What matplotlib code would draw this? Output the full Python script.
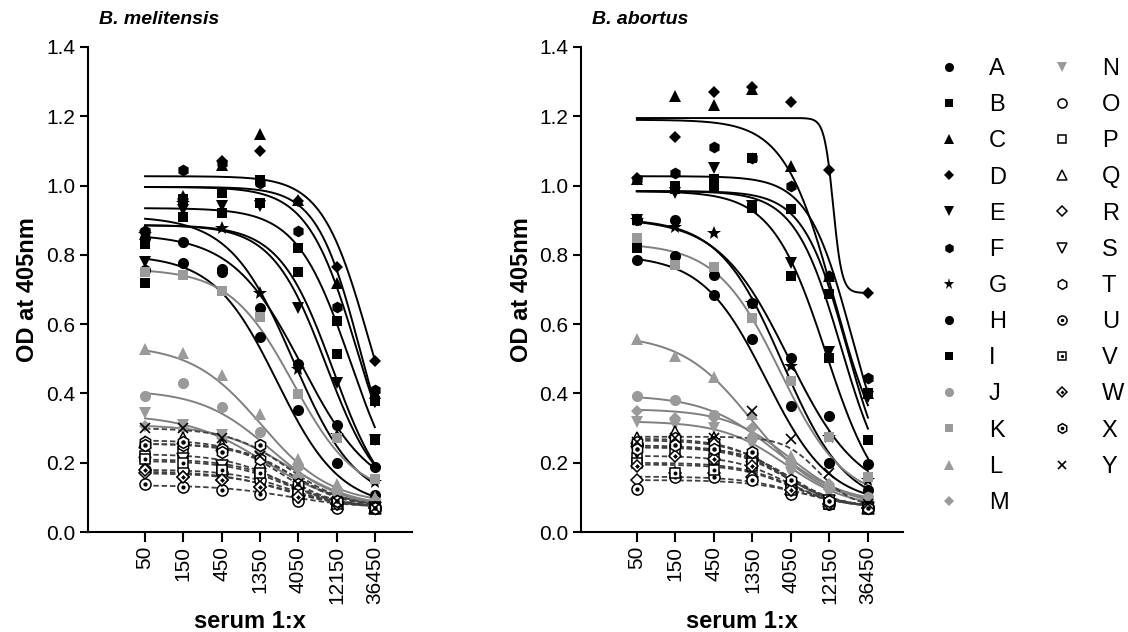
import numpy as np
import matplotlib
matplotlib.use('Agg')
import matplotlib.pyplot as plt
from matplotlib.lines import Line2D

plt.rcParams['font.family'] = ['Liberation Sans', 'DejaVu Sans']

# ── data ──────────────────────────────────────────────────────────────────────
DILUTIONS = [50, 150, 450, 1350, 4050, 12150, 36450]
DIL_LABELS = ['50', '150', '450', '1350', '4050', '12150', '36450']
SERA = list('ABCDEFGHIJKLMNOPQRSTUVWXY')

# B. melitensis: OD per serum (rows A..Y) at each dilution
MEL_OD = [
    [0.85, 0.837, 0.76, 0.646, 0.485, 0.31, 0.187],   # A
    [0.72, 0.909, 0.92, 0.95, 0.75, 0.514, 0.265],    # B
    [0.86, 0.97, 1.06, 1.15, 0.958, 0.72, 0.40],      # C
    [0.87, 0.96, 1.07, 1.10, 0.955, 0.765, 0.493],    # D
    [0.78, 0.93, 0.94, 0.94, 0.646, 0.43, 0.265],     # E
    [0.87, 1.045, 1.065, 1.007, 0.87, 0.65, 0.41],    # F
    [0.86, 0.95, 0.877, 0.69, 0.47, 0.28, 0.144],     # G
    [0.756, 0.776, 0.75, 0.563, 0.352, 0.20, 0.107],  # H
    [0.83, 0.96, 0.98, 1.015, 0.82, 0.61, 0.378],     # I
    [0.392, 0.43, 0.36, 0.29, 0.19, 0.12, 0.09],      # J
    [0.75, 0.742, 0.695, 0.62, 0.398, 0.27, 0.153],   # K
    [0.528, 0.517, 0.453, 0.34, 0.21, 0.14, 0.10],    # L
    [0.306, 0.30, 0.27, 0.23, 0.16, 0.12, 0.085],     # M
    [0.343, 0.31, 0.28, 0.22, 0.15, 0.10, 0.08],      # N
    [0.18, 0.18, 0.17, 0.15, 0.10, 0.08, 0.07],       # O
    [0.22, 0.23, 0.19, 0.17, 0.11, 0.08, 0.07],       # P
    [0.26, 0.27, 0.25, 0.20, 0.12, 0.08, 0.07],       # Q
    [0.17, 0.16, 0.15, 0.13, 0.10, 0.08, 0.07],       # R
    [0.20, 0.21, 0.19, 0.16, 0.11, 0.08, 0.07],       # S
    [0.26, 0.25, 0.24, 0.21, 0.13, 0.09, 0.07],       # T
    [0.14, 0.13, 0.12, 0.11, 0.09, 0.07, 0.07],       # U
    [0.21, 0.20, 0.18, 0.17, 0.11, 0.08, 0.07],       # V
    [0.18, 0.16, 0.15, 0.13, 0.10, 0.08, 0.07],       # W
    [0.25, 0.26, 0.23, 0.25, 0.14, 0.09, 0.07],       # X
    [0.30, 0.30, 0.27, 0.22, 0.14, 0.09, 0.07],       # Y
]
# 4-parameter logistic fit per serum (top, bottom, EC50, hill)
MEL_TOP    = [0.86, 0.886, 0.996, 1.027, 0.886, 0.996, 0.912, 0.80, 0.935,
              0.41, 0.76, 0.54, 0.31, 0.34,
              0.18, 0.225, 0.265, 0.17, 0.205, 0.255, 0.135, 0.21, 0.175, 0.255, 0.30]
MEL_BOTTOM = [0.10, 0.05, 0.05, 0.10, 0.08, 0.05, 0.08, 0.07, 0.05,
              0.07, 0.10, 0.08, 0.07, 0.07,
              0.07, 0.07, 0.07, 0.07, 0.07, 0.07, 0.07, 0.07, 0.07, 0.07, 0.07]
MEL_EC50   = [4500, 11000, 24000, 30000, 9000, 22000, 3500, 2200, 18000,
              1800, 3500, 1400, 3000, 1500,
              3000, 2500, 2500, 3000, 2800, 3500, 3000, 3000, 2500, 3500, 3000]
MEL_HILL   = [1.0, 1.3, 1.6, 1.5, 1.3, 1.4, 1.1, 1.1, 1.3,
              1.0, 1.1, 1.0, 1.0, 0.9,
              1.2, 1.2, 1.3, 1.1, 1.2, 1.2, 1.0, 1.2, 1.1, 1.3, 1.2]

# B. abortus
ABO_OD = [
    [0.90, 0.90, 0.742, 0.661, 0.502, 0.335, 0.196],  # A
    [0.82, 1.00, 1.02, 1.08, 0.932, 0.687, 0.40],     # B
    [1.02, 1.258, 1.232, 1.28, 1.056, 0.74, 0.40],    # C
    [1.022, 1.14, 1.27, 1.285, 1.24, 1.045, 0.69],    # D
    [0.90, 0.98, 1.05, 0.94, 0.776, 0.52, 0.39],      # E
    [1.02, 1.036, 1.11, 1.08, 0.999, 0.739, 0.444],   # F
    [0.90, 0.88, 0.863, 0.66, 0.48, 0.274, 0.15],     # G
    [0.785, 0.797, 0.684, 0.557, 0.364, 0.199, 0.121],# H
    [0.90, 0.99, 1.00, 0.935, 0.739, 0.502, 0.265],   # I
    [0.392, 0.381, 0.338, 0.274, 0.19, 0.13, 0.10],   # J
    [0.85, 0.771, 0.765, 0.618, 0.436, 0.274, 0.159], # K
    [0.557, 0.508, 0.447, 0.34, 0.22, 0.14, 0.10],    # L
    [0.35, 0.33, 0.33, 0.30, 0.20, 0.14, 0.09],       # M
    [0.317, 0.31, 0.30, 0.25, 0.17, 0.11, 0.08],      # N
    [0.25, 0.25, 0.24, 0.21, 0.13, 0.09, 0.07],       # O
    [0.215, 0.23, 0.21, 0.19, 0.12, 0.08, 0.07],      # P
    [0.27, 0.29, 0.27, 0.22, 0.14, 0.09, 0.07],       # Q
    [0.15, 0.17, 0.17, 0.16, 0.11, 0.08, 0.07],       # R
    [0.23, 0.26, 0.25, 0.21, 0.13, 0.09, 0.07],       # S
    [0.26, 0.27, 0.26, 0.22, 0.14, 0.09, 0.07],       # T
    [0.125, 0.16, 0.16, 0.15, 0.11, 0.08, 0.07],      # U
    [0.20, 0.17, 0.18, 0.20, 0.12, 0.08, 0.07],       # V
    [0.19, 0.22, 0.21, 0.19, 0.12, 0.08, 0.07],       # W
    [0.24, 0.25, 0.24, 0.23, 0.15, 0.09, 0.07],       # X
    [0.26, 0.27, 0.27, 0.35, 0.268, 0.17, 0.08],      # Y
]
ABO_TOP    = [0.905, 0.984, 1.19, 1.195, 0.984, 1.027, 0.905, 0.80, 0.984,
              0.395, 0.834, 0.57, 0.355, 0.32,
              0.25, 0.22, 0.27, 0.16, 0.245, 0.265, 0.15, 0.195, 0.20, 0.245, 0.275]
ABO_BOTTOM = [0.10, 0.08, 0.15, 0.69, 0.08, 0.10, 0.07, 0.08, 0.05,
              0.08, 0.09, 0.08, 0.07, 0.07,
              0.07, 0.07, 0.07, 0.07, 0.07, 0.07, 0.07, 0.07, 0.07, 0.07, 0.07]
ABO_EC50   = [3800, 20000, 14000, 13500, 17000, 23000, 3200, 2000, 11000,
              2500, 3000, 1300, 4000, 3500,
              3500, 3500, 3000, 5000, 3500, 3200, 6000, 4000, 4000, 4000, 9000]
ABO_HILL   = [1.0, 1.6, 1.4, 8.0, 1.5, 1.6, 1.1, 1.1, 1.3,
              1.0, 1.1, 1.0, 1.1, 1.1,
              1.3, 1.3, 1.3, 1.2, 1.3, 1.3, 1.2, 1.3, 1.3, 1.4, 2.0]

# ── aesthetics ────────────────────────────────────────────────────────────────
SHAPES = ['o', 's', '^', 'D', 'v', 'h', '*', 'o', 's',
          'o', 's', '^', 'D', 'v',
          'o', 's', '^', 'D', 'v', 'h', 'o', 's', 'D', 'h', 'x']
SIZES = {'o': 8.0, 's': 7.5, '^': 8.5, 'v': 8.5, 'D': 6.5, 'h': 8.5, '*': 10.0, 'x': 7.5}
GREY = '#9a9a9a'
GREY_LINE = '#808080'
DASH_LINE = '#404040'


def marker_styles(k, scale=1.0):
    m = SHAPES[k]
    ms = SIZES[m] * scale
    if k < 9:
        return [dict(marker=m, ms=ms, mfc='black', mec='black', mew=0)]
    if k < 14:
        return [dict(marker=m, ms=ms, mfc=GREY, mec=GREY, mew=0)]
    if SERA[k] == 'Y':
        return [dict(marker='x', ms=ms, mfc='none', mec='black', mew=1.2)]
    base = dict(marker=m, ms=ms, mfc='white', mec='black', mew=1.1)
    if k < 20:
        return [base]
    inner = dict(marker='D' if SERA[k] == 'W' else 'o', ms=ms * 0.38,
                 mfc='black', mec='black', mew=0)
    return [base, inner]


def draw_panel(ax, od, top, bottom, ec50, hill):
    xx = np.logspace(np.log10(DILUTIONS[0]), np.log10(DILUTIONS[-1]), 400)
    for k in range(len(SERA)):
        fit = bottom[k] + (top[k] - bottom[k]) / (1 + (xx / ec50[k]) ** hill[k])
        if k < 9:
            ax.plot(xx, fit, color='black', lw=1.4, zorder=2)
        elif k < 14:
            ax.plot(xx, fit, color=GREY_LINE, lw=1.4, zorder=2)
        else:
            ax.plot(xx, fit, color=DASH_LINE, lw=1.3, ls=(0, (3, 1.6)), zorder=2)
        for st in marker_styles(k):
            ax.plot(DILUTIONS, od[k], ls='none', zorder=3, **st)

    ax.set_xscale('log')
    ax.minorticks_off()
    ax.set_xticks(DILUTIONS)
    ax.set_xticklabels(DIL_LABELS, rotation=90)
    ax.set_ylim(0, 1.4)
    ax.set_yticks(np.arange(0, 1.41, 0.2))
    ax.set_yticklabels([f'{v:.1f}' for v in np.arange(0, 1.41, 0.2)])
    for s in ['top', 'right']:
        ax.spines[s].set_visible(False)
    for s in ['left', 'bottom']:
        ax.spines[s].set_linewidth(1.5)
    ax.tick_params(axis='both', direction='out', width=1.5, labelsize=15, pad=3)
    ax.tick_params(axis='y', length=6)
    ax.tick_params(axis='x', length=7)
    ax.set_ylabel('OD at 405nm', fontsize=17, fontweight='bold')
    ax.set_xlabel('serum 1:x', fontsize=17, fontweight='bold')
    ax.yaxis.set_label_coords(-0.15, 0.5)
    ax.xaxis.set_label_coords(0.5, -0.16)


fig = plt.figure(figsize=(11.28, 6.32), dpi=100)
ax1 = fig.add_axes([88 / 1128, 1 - 532 / 632, 324 / 1128, 485 / 632])
ax2 = fig.add_axes([581 / 1128, 1 - 532 / 632, 322 / 1128, 485 / 632])

draw_panel(ax1, MEL_OD, MEL_TOP, MEL_BOTTOM, MEL_EC50, MEL_HILL)
ax1.set_xlim(50 / 3 ** 1.49, 36450 * 3 ** 0.97)
draw_panel(ax2, ABO_OD, ABO_TOP, ABO_BOTTOM, ABO_EC50, ABO_HILL)
ax2.set_xlim(50 / 3 ** 1.45, 36450 * 3 ** 0.91)

fig.text(99 / 1128, 1 - 20 / 632, 'B. melitensis', fontsize=14, fontweight='bold',
         style='italic', va='center')
fig.text(592 / 1128, 1 - 20 / 632, 'B. abortus', fontsize=14, fontweight='bold',
         style='italic', va='center')

handles = []
for k in range(len(SERA)):
    hs = [Line2D([], [], ls='none', **st) for st in marker_styles(k, scale=0.82)]
    handles.append(tuple(hs) if len(hs) > 1 else hs[0])
fig.legend(handles, SERA, ncol=2, loc='upper left',
           bbox_to_anchor=(937 / 1128, 1 - 58 / 632), frameon=False,
           fontsize=17, handlelength=1.0, handletextpad=1.2,
           columnspacing=1.75, labelspacing=0.6, borderaxespad=0, borderpad=0)

fig.savefig('out.png', dpi=100)
